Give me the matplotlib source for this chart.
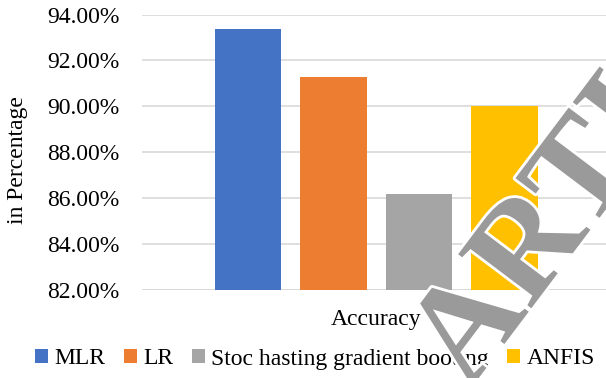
import numpy as np
import matplotlib.pyplot as plt
import matplotlib.patheffects as pe

plt.rcParams['font.family'] = ['Liberation Serif', 'DejaVu Serif']

models = ['MLR', 'LR', 'Stoc hasting gradient booting', 'ANFIS']
accuracy = [93.37, 91.28, 86.18, 90.0]
colors = ['#4472C4', '#ED7D31', '#A5A5A5', '#FFC000']
yticks = [82, 84, 86, 88, 90, 92, 94]

W, H = 606, 378
fig = plt.figure(figsize=(W / 100, H / 100), dpi=100)
ax = fig.add_axes([142 / W, 1 - 290 / H, 1 - 142 / W, (290 - 14.5) / H])

x = np.arange(len(models))
for i in range(len(models)):
    ax.bar(x[i], accuracy[i] - 82, bottom=82, width=0.78, color=colors[i],
           label=models[i], zorder=3)

ax.set_ylim(82, 94)
ax.set_xlim(-1.24, 3 + (W - 504.5) / 85.5)
ax.set_yticks(yticks)
ax.set_yticklabels(['{0:.2f}%'.format(v) for v in yticks], fontsize=17)
ax.tick_params(axis='y', length=0, pad=16)
ax.set_xticks([])
ax.grid(axis='y', color='#d9d9d9', linewidth=1.2, zorder=0)
for s in ax.spines.values():
    s.set_visible(False)
ax.axhline(82, color='#d9d9d9', linewidth=1.2, zorder=1)

fig.text(18 / W, 1 - 160 / H, 'in Percentage', rotation=90, fontsize=17,
         ha='center', va='center')
fig.text(376 / W, 1 - 319 / H, 'Accuracy', fontsize=17, ha='center', va='center')

fig.legend(loc='center', bbox_to_anchor=(315 / W, 1 - 359 / H), ncol=4,
           frameon=False, fontsize=17, handlelength=0.55, handleheight=0.55,
           handletextpad=0.25, columnspacing=0.8, borderpad=0)

# diagonal watermark
ang = 53
wm = dict(rotation=ang, rotation_mode='anchor', va='baseline', fontsize=100,
          fontweight='bold', color='#9a9a9a', zorder=10,
          path_effects=[pe.withStroke(linewidth=4, foreground='white')])
fig.text(469 / W, 1 - 391 / H, 'ARTICLE', ha='left', **wm)
fig.text(448 / W, 1 - 419 / H, 'RETRACTED', ha='right', **wm)

fig.savefig('out.png', dpi=100)
